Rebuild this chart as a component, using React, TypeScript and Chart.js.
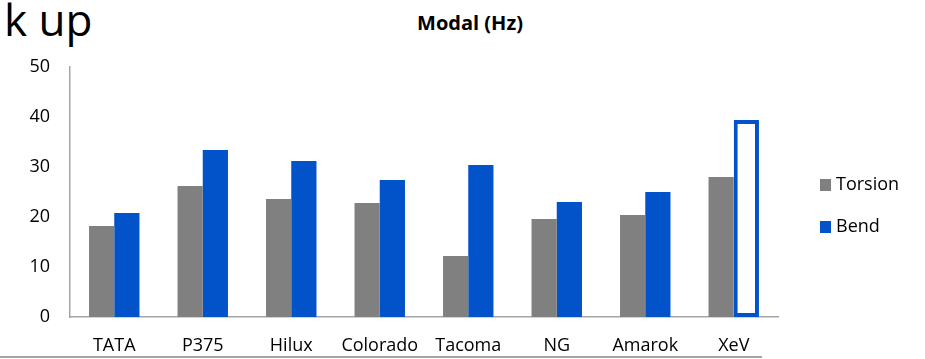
import React, { useEffect, useRef } from "react";
import { Chart, registerables } from "chart.js";

Chart.register(...registerables);

const categories = ["TATA", "P375", "Hilux", "Colorado", "Tacoma", "NG", "Amarok", "XeV"];
const torsion = [18.2, 26.2, 23.6, 22.8, 12.2, 19.6, 20.4, 28];
const bend = [20.8, 33.4, 31.2, 27.4, 30.4, 23, 25, 39.4];
const seriesNames = ["Torsion", "Bend"];
const GRAY = "#808080";
const BLUE = "#0252C9";
const FONT = "'Open Sans', sans-serif";

const legendPlugin = {
  id: "customLegend",
  afterDraw(chart: any) {
    const ctx = chart.ctx;
    const items = chart.data.datasets.map((d: any, i: number) => ({ text: d.label, color: i === 0 ? GRAY : BLUE }));
    ctx.save();
    ctx.font = `18px ${FONT}`;
    ctx.textBaseline = "middle";
    items.forEach((it: any, i: number) => {
      const y = 185 + i * 42;
      ctx.fillStyle = it.color;
      ctx.fillRect(820, y - 6, 11, 12);
      ctx.fillStyle = "#000";
      ctx.fillText(it.text, 836, y);
    });
    ctx.restore();
  },
};

export default function App() {
  const ref = useRef<HTMLCanvasElement>(null);
  useEffect(() => {
    if (!ref.current) return;
    const n = categories.length;
    const chart = new Chart(ref.current, {
      type: "bar",
      data: {
        labels: categories,
        datasets: [
          {
            label: seriesNames[0],
            data: torsion,
            backgroundColor: GRAY,
            borderWidth: 0,
            categoryPercentage: 0.57,
            barPercentage: 1,
          },
          {
            label: seriesNames[1],
            data: bend,
            backgroundColor: categories.map((_, i) => (i === n - 1 ? "#ffffff" : BLUE)),
            borderColor: BLUE,
            borderWidth: categories.map((_, i) => (i === n - 1 ? 4 : 0)),
            borderSkipped: false,
            categoryPercentage: 0.57,
            barPercentage: 1,
          },
        ],
      },
      options: {
        animation: false,
        responsive: false,
        maintainAspectRatio: false,
        layout: { padding: { top: 67, right: 925 - 778, left: 0, bottom: 0 } },
        plugins: { legend: { display: false }, tooltip: { enabled: false }, title: { display: false } },
        scales: {
          x: {
            grid: { display: false, drawTicks: false },
            border: { display: true, color: "#a6a6a6", width: 1.5 },
            ticks: { color: "#000", font: { family: FONT, size: 18 }, padding: 18 },
            afterFit: (s: any) => {
              s.height = 359 - 317;
            },
          },
          y: {
            min: 0,
            max: 50,
            grid: { display: false, drawTicks: false },
            border: { display: true, color: "#a6a6a6", width: 1.5 },
            ticks: { stepSize: 10, color: "#000", font: { family: FONT, size: 18 }, padding: 20 },
            afterFit: (s: any) => {
              s.width = 70;
            },
          },
        },
      },
      plugins: [legendPlugin],
    });
    return () => chart.destroy();
  }, []);
  return (
    <div style={{ position: "absolute", left: 0, top: 0, width: 925, height: 359, background: "#fff", overflow: "hidden" }}>
      <div style={{ position: "absolute", left: 4, top: -11, fontFamily: FONT, fontSize: 44, color: "#000", lineHeight: "60px" }}>k up</div>
      <div style={{ position: "absolute", left: 0, width: 940, top: 9, textAlign: "center", fontFamily: FONT, fontWeight: "bold", fontSize: 20, lineHeight: "28px", color: "#000" }}>Modal (Hz)</div>
      <canvas ref={ref} width={925} height={359} style={{ position: "absolute", left: 0, top: 0 }} />
      <div style={{ position: "absolute", left: 0, top: 356, width: 762, height: 1.5, background: "#a6a6a6" }} />
    </div>
  );
}
